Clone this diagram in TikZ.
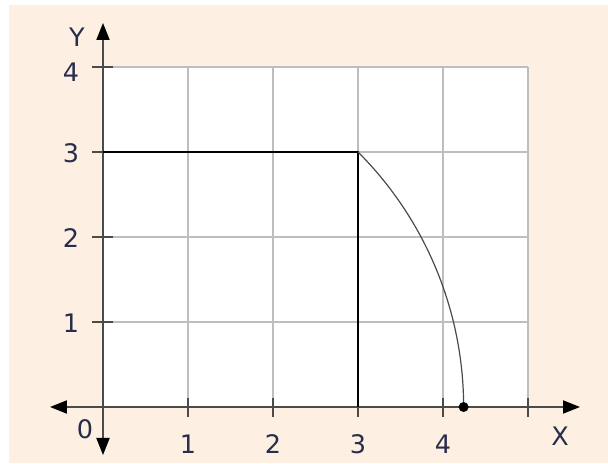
\documentclass[tikz,border=0pt]{standalone}
\usepackage{fontspec}
\setmainfont{DejaVu Sans}
\usetikzlibrary{arrows.meta}
\definecolor{peach}{RGB}{253,240,227}
\definecolor{gridgray}{RGB}{190,190,190}
\definecolor{axisgray}{RGB}{75,75,75}
\definecolor{labelblue}{RGB}{40,45,75}
\tikzset{
  gridline/.style={draw=gridgray, line width=1.3pt},
  axisline/.style={draw=axisgray, line width=2pt, {Triangle[length=17pt,width=13pt,color=black]}-{Triangle[length=17pt,width=13pt,color=black]}},
  tickline/.style={draw=axisgray, line width=1.6pt},
  lbl/.style={text=labelblue, font=\fontsize{25.5}{29}\selectfont, inner sep=0pt},
  boxline/.style={draw=black, line width=1.5pt},
  arcline/.style={draw=axisgray, line width=1.2pt}
}
\begin{document}
\begin{tikzpicture}[x=85pt,y=85pt]
\useasboundingbox (-103/85,-57/85) rectangle (505/85,407/85);
\fill[peach] (-94/85,-56/85) rectangle (505/85,402/85);
\fill[white] (0,0) rectangle (5,4);
\foreach \i in {1,...,5} \draw[gridline] (\i,0) -- (\i,4);
\foreach \j in {1,...,4} \draw[gridline] (0,\j) -- (5,\j);
% axes
\coordinate (xl) at (-53/85,0);
\coordinate (xr) at (477/85,0);
\coordinate (yb) at (0,-48/85);
\coordinate (yt) at (0,384/85);
\draw[axisline] (xl) -- (xr);
\draw[axisline] (yb) -- (yt);
% ticks
\foreach \i in {1,...,5} \draw[tickline] (\i,-0.115) -- (\i,0.105);
\foreach \j in {1,...,4} \draw[tickline] (-0.13,\j) -- (0.12,\j);
% rectangle and arc
\coordinate (p0) at (0,3);
\coordinate (p1) at (3,3);
\coordinate (p2) at (3,0);
\draw[boxline] (p0) -- (p1) -- (p2);
\draw[arcline] (p1) arc[start angle=45, end angle=0, radius={3*sqrt(2)}] coordinate (pe);
\fill[black] (pe) circle[radius=5pt];
% labels
\node[lbl] (ly) at (-26/85,370/85) {Y};
\node[lbl] (l4y) at (-32/85,335/85) {4};
\node[lbl] (l3y) at (-32/85,254/85) {3};
\node[lbl] (l2y) at (-32/85,169/85) {2};
\node[lbl] (l1y) at (-32/85,84/85) {1};
\node[lbl] (l0) at (-18/85,-22/85) {0};
\node[lbl] (l1x) at (1,-37/85) {1};
\node[lbl] (l2x) at (2,-37/85) {2};
\node[lbl] (l3x) at (3,-37/85) {3};
\node[lbl] (l4x) at (4,-37/85) {4};
\node[lbl] (lx) at (457/85,-29/85) {X};
\end{tikzpicture}
\end{document}
